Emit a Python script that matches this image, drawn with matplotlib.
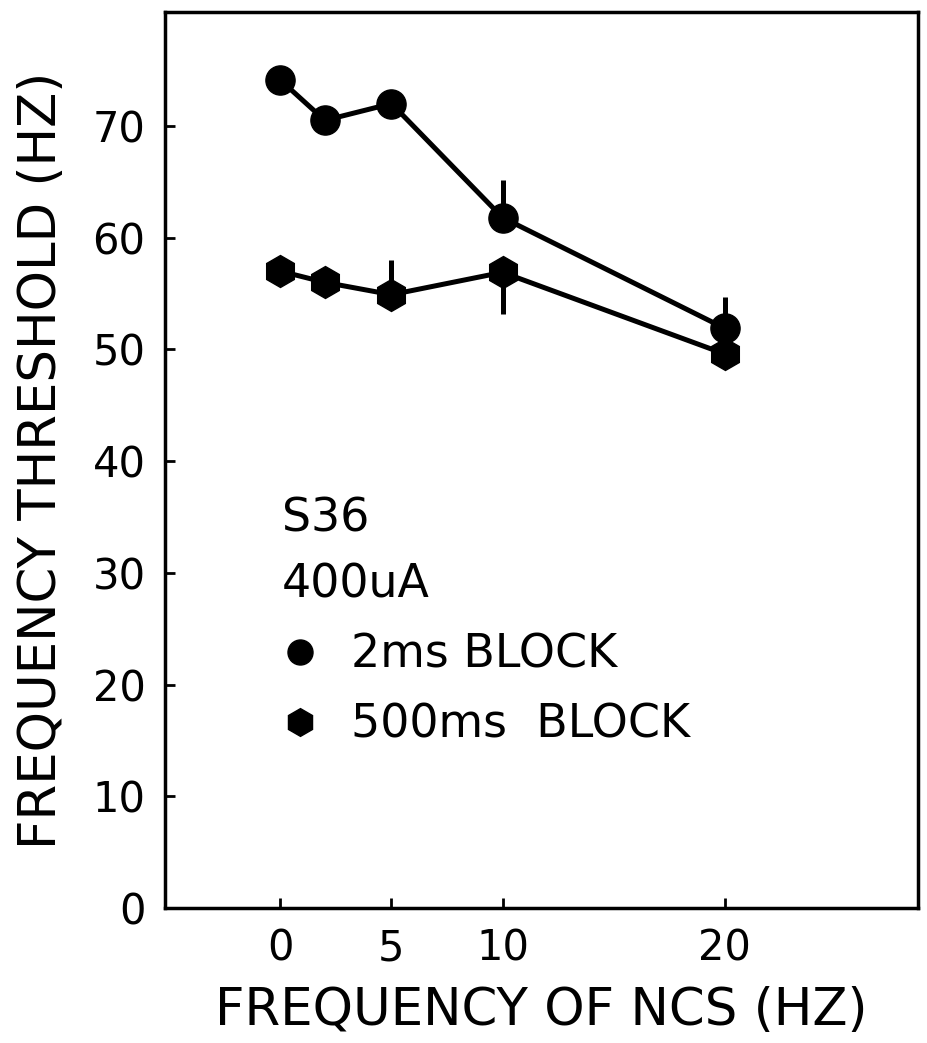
import matplotlib
matplotlib.use("Agg")
import matplotlib.pyplot as plt
from matplotlib.lines import Line2D

# NCS frequency (Hz)
ncs_freq = [0, 2, 5, 10, 20]

# 2 ms block
thr_2ms = [74.1, 70.5, 72.0, 61.8, 51.9]
err_2ms_lo = [0, 0, 0, 0, 0]
err_2ms_hi = [0, 0, 0, 3.4, 2.8]

# 500 ms block
thr_500ms = [57.0, 56.0, 54.9, 56.9, 49.6]
err_500ms_lo = [0, 0, 0, 3.7, 0]
err_500ms_hi = [0, 0, 3.1, 0, 0]

xticks = [0, 5, 10, 20]
yticks = [0, 10, 20, 30, 40, 50, 60, 70]

plt.rcParams['font.family'] = ['DejaVu Sans']

fig = plt.figure(figsize=(9.27, 10.43), dpi=100)
ax = fig.add_axes([0.178, 0.1294, 0.812, 0.8591])

ax.errorbar(ncs_freq, thr_2ms, yerr=[err_2ms_lo, err_2ms_hi], color='black',
            lw=3.6, marker='o', ms=21, elinewidth=3.6, capsize=0, zorder=3)
ax.errorbar(ncs_freq, thr_500ms, yerr=[err_500ms_lo, err_500ms_hi], color='black',
            lw=3.6, marker='h', ms=23, elinewidth=3.6, capsize=0, zorder=3)

ax.set_xlim(-5.2, 28.7)
ax.set_ylim(0, 80.2)
ax.set_xticks(xticks)
ax.set_yticks(yticks)
ax.tick_params(axis='both', direction='in', length=7, width=2, labelsize=30, color='black')
ax.tick_params(axis='x', pad=14)
ax.tick_params(axis='y', pad=14)
for s in ax.spines.values():
    s.set_linewidth(2.5)

ax.set_xlabel('FREQUENCY OF NCS (HZ)', fontsize=37, labelpad=12)
ax.set_ylabel('FREQUENCY THRESHOLD (HZ)', fontsize=37, labelpad=18)

handles = [
    Line2D([], [], color='black', marker='o', ms=18, ls='none'),
    Line2D([], [], color='black', marker='h', ms=20, ls='none'),
]
leg = ax.legend(handles, ['2ms BLOCK', '500ms  BLOCK'], title='S36\n400uA',
                loc='upper left', bbox_to_anchor=(0.125, 0.485), frameon=False,
                fontsize=33, title_fontsize=33, alignment='left',
                handletextpad=0.7, labelspacing=0.55, handlelength=0.8,
                borderpad=0)
leg.get_title().set_linespacing(1.6)

fig.savefig('out.png', dpi=100)
